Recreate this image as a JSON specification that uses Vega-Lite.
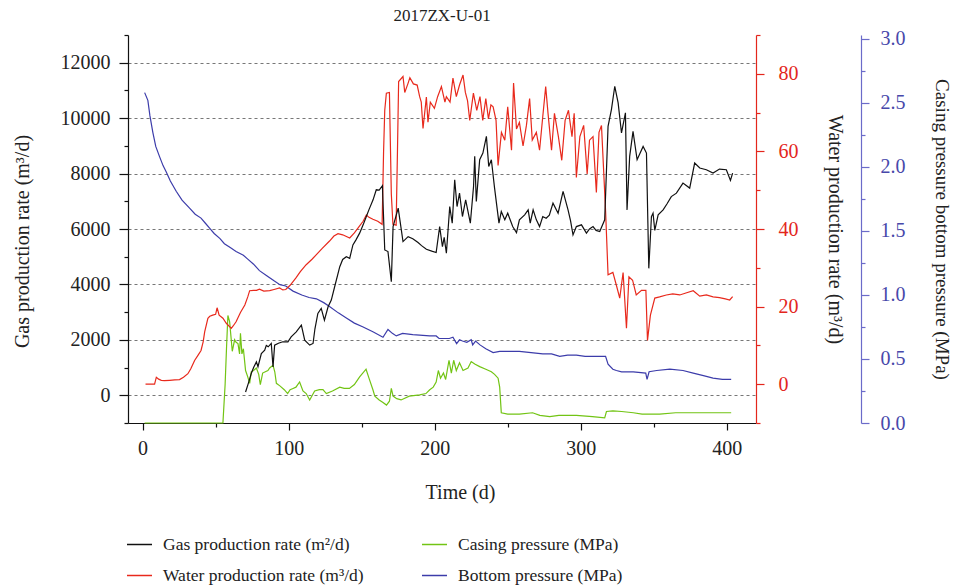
{
"$schema": "https://vega.github.io/schema/vega-lite/v6.json",
"width": 628, "height": 388,
"autosize": {"type": "none"},
"padding": {"left": 128, "top": 35, "right": 199, "bottom": 165},
"title": {"text": "2017ZX-U-01", "font": "Liberation Serif", "fontSize": 17, "fontWeight": "normal", "color": "#222", "anchor": "middle", "offset": 4},
"config": {"view": {"stroke": null}, "font": "Liberation Serif",
  "axis": {"labelFont": "Liberation Serif", "titleFont": "Liberation Serif", "labelFontSize": 20, "titleFontSize": 20, "titleFontWeight": "normal", "labelColor": "#222", "titleColor": "#222", "domainWidth": 1.2, "tickWidth": 1.2, "grid": false},
  "legend": {"labelFont": "Liberation Serif", "labelFontSize": 17.5, "labelColor": "#222", "labelLimit": 0, "symbolType": "stroke", "symbolSize": 625, "symbolStrokeWidth": 1.5, "labelOffset": 10, "columnPadding": 55, "rowPadding": 9, "padding": 0}},
"datasets": {
"gas": [{"t":70.5,"v":120},{"t":72.5,"v":450},{"t":74.4,"v":785},{"t":76,"v":1000},{"t":77.9,"v":1205},{"t":79,"v":1030},{"t":81.3,"v":1508},{"t":83.6,"v":1628},{"t":84.7,"v":1800},{"t":86,"v":1750},{"t":88.1,"v":1870},{"t":89.3,"v":1024},{"t":90.4,"v":1810},{"t":93,"v":1880},{"t":96,"v":1930},{"t":99.5,"v":1930},{"t":101.7,"v":2110},{"t":105.2,"v":2290},{"t":108.7,"v":2530},{"t":111,"v":1990},{"t":114.4,"v":1810},{"t":116.7,"v":1870},{"t":118,"v":2400},{"t":120,"v":2955},{"t":122.3,"v":3135},{"t":124.5,"v":2710},{"t":127,"v":3195},{"t":129.2,"v":3436},{"t":131.5,"v":3917},{"t":135,"v":4640},{"t":137,"v":4900},{"t":139.5,"v":5000},{"t":141.8,"v":4942},{"t":144,"v":5425},{"t":146,"v":5600},{"t":148.6,"v":5850},{"t":151,"v":6150},{"t":153.2,"v":6450},{"t":155,"v":6700},{"t":157.8,"v":7053},{"t":160,"v":7415},{"t":162,"v":7400},{"t":164.2,"v":7560},{"t":165.8,"v":5245},{"t":168,"v":5185},{"t":170.3,"v":4100},{"t":171.5,"v":6088},{"t":175,"v":6752},{"t":178.3,"v":5545},{"t":181.8,"v":5726},{"t":185,"v":5650},{"t":188.6,"v":5510},{"t":191,"v":5400},{"t":194.3,"v":5270},{"t":198,"v":5200},{"t":201,"v":5150},{"t":203.4,"v":6088},{"t":205.3,"v":5365},{"t":206.5,"v":5700},{"t":208,"v":5125},{"t":210.3,"v":6810},{"t":212,"v":6208},{"t":213.7,"v":7777},{"t":215.3,"v":6810},{"t":217,"v":7294},{"t":219,"v":6450},{"t":221.2,"v":7053},{"t":224.4,"v":6210},{"t":226.6,"v":7536},{"t":227.4,"v":8620},{"t":228.5,"v":6992},{"t":230.8,"v":8500},{"t":233,"v":8740},{"t":235.4,"v":9343},{"t":237,"v":8258},{"t":238.8,"v":8500},{"t":241,"v":7476},{"t":244,"v":6210},{"t":245.6,"v":6630},{"t":248,"v":6330},{"t":250,"v":6570},{"t":253.4,"v":6088},{"t":256,"v":5870},{"t":258,"v":6330},{"t":261.6,"v":6510},{"t":264,"v":6690},{"t":265.4,"v":6210},{"t":267.4,"v":6690},{"t":269.6,"v":6330},{"t":271.8,"v":6088},{"t":274,"v":6450},{"t":276.3,"v":6390},{"t":278.5,"v":6500},{"t":281,"v":6933},{"t":284.5,"v":6570},{"t":287.9,"v":7355},{"t":291.3,"v":6690},{"t":293,"v":6300},{"t":294.7,"v":5787},{"t":297,"v":6088},{"t":300.5,"v":6150},{"t":303.9,"v":5850},{"t":306,"v":6000},{"t":308.4,"v":6088},{"t":310.5,"v":5950},{"t":313,"v":5910},{"t":316.4,"v":6330},{"t":318.7,"v":9705},{"t":321,"v":10310},{"t":323.3,"v":11150},{"t":325.6,"v":10550},{"t":327.9,"v":9465},{"t":330.6,"v":10190},{"t":331.7,"v":6690},{"t":333.5,"v":8620},{"t":335.8,"v":9525},{"t":338.6,"v":8500},{"t":342.7,"v":8980},{"t":345,"v":8740},{"t":346.6,"v":4580},{"t":348.4,"v":6450},{"t":349.5,"v":6570},{"t":350.7,"v":5950},{"t":353,"v":6510},{"t":356.4,"v":6690},{"t":359,"v":6900},{"t":362,"v":7170},{"t":365.5,"v":7294},{"t":370,"v":7657},{"t":374.6,"v":7476},{"t":378,"v":8380},{"t":381.5,"v":8200},{"t":386,"v":8140},{"t":390.6,"v":8018},{"t":395,"v":8163},{"t":399.7,"v":8140},{"t":402.5,"v":7753},{"t":404,"v":8018}],
"water": [{"t":2,"v":0},{"t":8.2,"v":0},{"t":9.4,"v":1.8},{"t":11,"v":1.3},{"t":12.8,"v":1},{"t":15,"v":0.9},{"t":18.5,"v":1},{"t":22,"v":1.1},{"t":25.3,"v":1.2},{"t":28,"v":1.8},{"t":31,"v":2.7},{"t":33,"v":4},{"t":35.6,"v":6.1},{"t":38,"v":7.5},{"t":40,"v":8.7},{"t":41.5,"v":11},{"t":42.5,"v":13.5},{"t":44.7,"v":17},{"t":46,"v":17.5},{"t":48,"v":17.8},{"t":50,"v":18},{"t":51,"v":19.7},{"t":52.4,"v":17.8},{"t":55,"v":17},{"t":57.3,"v":15.7},{"t":60.7,"v":14.4},{"t":62,"v":15},{"t":64,"v":16.1},{"t":67,"v":18.5},{"t":70,"v":20.4},{"t":72,"v":22.5},{"t":73.3,"v":24.1},{"t":76,"v":24.2},{"t":78,"v":24.2},{"t":80,"v":24.5},{"t":83,"v":24},{"t":87,"v":24.1},{"t":90,"v":24.4},{"t":93.8,"v":24.8},{"t":96,"v":24.3},{"t":98,"v":24.4},{"t":101,"v":25.5},{"t":105,"v":27.4},{"t":108,"v":29},{"t":112,"v":30.8},{"t":116,"v":32.2},{"t":119,"v":33.4},{"t":123,"v":35},{"t":128,"v":36.9},{"t":131,"v":38.2},{"t":133.8,"v":38.8},{"t":137,"v":38.5},{"t":141.8,"v":37.7},{"t":145,"v":39},{"t":148.6,"v":40.8},{"t":151,"v":42},{"t":153.2,"v":43.6},{"t":155,"v":43},{"t":157.7,"v":42.5},{"t":161,"v":42},{"t":164,"v":41.2},{"t":165,"v":60},{"t":165.8,"v":70.6},{"t":166.9,"v":75},{"t":169,"v":75.2},{"t":170.3,"v":49},{"t":171.4,"v":41.2},{"t":173.6,"v":41},{"t":174.5,"v":60},{"t":175.3,"v":78},{"t":178.3,"v":79.3},{"t":179.5,"v":75.2},{"t":181.8,"v":77.6},{"t":183,"v":79},{"t":185.4,"v":77.4},{"t":188,"v":77.1},{"t":189.7,"v":74.1},{"t":190.8,"v":72.7},{"t":192,"v":65.9},{"t":194.3,"v":74},{"t":195.4,"v":67.5},{"t":197,"v":72.7},{"t":199.8,"v":71.1},{"t":202,"v":74.1},{"t":204.6,"v":76.7},{"t":207,"v":72.7},{"t":208,"v":74.1},{"t":210.5,"v":72.7},{"t":212.5,"v":78.9},{"t":214.8,"v":74.1},{"t":217,"v":77.1},{"t":219.4,"v":79.7},{"t":221,"v":75.2},{"t":222.5,"v":73},{"t":224,"v":68},{"t":226.5,"v":75},{"t":228.8,"v":70.6},{"t":231,"v":74.1},{"t":232.9,"v":68},{"t":235,"v":73.6},{"t":236.8,"v":68.4},{"t":238.5,"v":72},{"t":240,"v":71.5},{"t":242,"v":68},{"t":243.4,"v":56.4},{"t":245.7,"v":64.9},{"t":248,"v":62.9},{"t":250,"v":71.5},{"t":252.6,"v":60.3},{"t":254,"v":77.6},{"t":256,"v":65.8},{"t":258,"v":67.5},{"t":260.5,"v":61.4},{"t":262.8,"v":66.7},{"t":265,"v":73.6},{"t":266.8,"v":62.9},{"t":269.6,"v":64.9},{"t":271.8,"v":60.3},{"t":274,"v":69},{"t":276,"v":76.7},{"t":277.6,"v":69.8},{"t":280,"v":60.3},{"t":282,"v":69.8},{"t":284.7,"v":63.8},{"t":287,"v":57.7},{"t":289.3,"v":68},{"t":291.6,"v":70.6},{"t":294,"v":63.8},{"t":295.5,"v":69.8},{"t":297,"v":53.3},{"t":299.4,"v":63.8},{"t":302,"v":66.7},{"t":304.4,"v":54.2},{"t":306,"v":62.9},{"t":308.4,"v":63.8},{"t":310.7,"v":49.4},{"t":312.5,"v":64.9},{"t":314.2,"v":66.7},{"t":317,"v":44.7},{"t":318.7,"v":28.2},{"t":322,"v":28.8},{"t":324.4,"v":25.5},{"t":326.7,"v":22.2},{"t":329,"v":28.8},{"t":331.3,"v":14.4},{"t":333,"v":27.7},{"t":335.5,"v":26.8},{"t":338,"v":23},{"t":341.6,"v":24.2},{"t":344.6,"v":24.2},{"t":345.7,"v":11.3},{"t":347.7,"v":17.8},{"t":350.7,"v":22.2},{"t":354,"v":22.5},{"t":358.6,"v":23},{"t":363,"v":23.3},{"t":367.8,"v":23},{"t":372,"v":23.5},{"t":377,"v":24.1},{"t":381.5,"v":22.7},{"t":386,"v":23},{"t":390.6,"v":22.5},{"t":395,"v":22.3},{"t":399,"v":22},{"t":402,"v":21.7},{"t":404,"v":22.6}],
"casing": [{"t":1.4,"v":0},{"t":30,"v":0},{"t":55,"v":0},{"t":56.5,"v":0.3},{"t":57.5,"v":0.6},{"t":58.4,"v":0.84},{"t":59.6,"v":0.79},{"t":61.4,"v":0.56},{"t":63,"v":0.65},{"t":64,"v":0.63},{"t":65.3,"v":0.62},{"t":66.4,"v":0.54},{"t":67,"v":0.7},{"t":68,"v":0.54},{"t":69,"v":0.58},{"t":70.5,"v":0.41},{"t":72,"v":0.36},{"t":73.3,"v":0.31},{"t":74.4,"v":0.4},{"t":76,"v":0.41},{"t":77.9,"v":0.43},{"t":79.5,"v":0.38},{"t":80.6,"v":0.3},{"t":82.2,"v":0.39},{"t":84,"v":0.4},{"t":85.8,"v":0.41},{"t":87,"v":0.43},{"t":89.3,"v":0.45},{"t":90.5,"v":0.4},{"t":91.6,"v":0.31},{"t":94,"v":0.29},{"t":97,"v":0.26},{"t":99.3,"v":0.23},{"t":101,"v":0.26},{"t":103,"v":0.27},{"t":105,"v":0.28},{"t":107.5,"v":0.32},{"t":109.8,"v":0.25},{"t":112,"v":0.23},{"t":114.4,"v":0.18},{"t":117.8,"v":0.25},{"t":121,"v":0.26},{"t":123.5,"v":0.26},{"t":125.8,"v":0.23},{"t":130,"v":0.25},{"t":135,"v":0.28},{"t":138,"v":0.27},{"t":141.6,"v":0.27},{"t":145,"v":0.3},{"t":148.6,"v":0.36},{"t":153,"v":0.42},{"t":155,"v":0.35},{"t":157.7,"v":0.26},{"t":159,"v":0.21},{"t":162,"v":0.18},{"t":164.6,"v":0.16},{"t":167,"v":0.14},{"t":169,"v":0.17},{"t":170.3,"v":0.27},{"t":171.5,"v":0.21},{"t":174,"v":0.19},{"t":177,"v":0.18},{"t":182.6,"v":0.21},{"t":189.7,"v":0.22},{"t":194,"v":0.23},{"t":196.6,"v":0.26},{"t":199,"v":0.28},{"t":201,"v":0.32},{"t":202.5,"v":0.41},{"t":204,"v":0.35},{"t":206,"v":0.39},{"t":207.5,"v":0.34},{"t":209.8,"v":0.49},{"t":211.4,"v":0.39},{"t":213,"v":0.49},{"t":214.8,"v":0.41},{"t":217,"v":0.47},{"t":219.4,"v":0.41},{"t":222.8,"v":0.43},{"t":225,"v":0.48},{"t":227.4,"v":0.46},{"t":230.8,"v":0.44},{"t":235,"v":0.42},{"t":238.8,"v":0.4},{"t":241,"v":0.38},{"t":243.4,"v":0.35},{"t":244.5,"v":0.28},{"t":245.6,"v":0.08},{"t":250,"v":0.07},{"t":258,"v":0.07},{"t":267,"v":0.08},{"t":272,"v":0.06},{"t":278.8,"v":0.05},{"t":285,"v":0.06},{"t":297,"v":0.06},{"t":308,"v":0.05},{"t":316.4,"v":0.04},{"t":317.6,"v":0.09},{"t":322,"v":0.095},{"t":328,"v":0.09},{"t":336,"v":0.08},{"t":342,"v":0.07},{"t":354,"v":0.07},{"t":365,"v":0.08},{"t":375,"v":0.08},{"t":388,"v":0.08},{"t":403,"v":0.08}],
"bottom": [{"t":1.4,"v":2.58},{"t":3.6,"v":2.52},{"t":5,"v":2.4},{"t":7,"v":2.27},{"t":9,"v":2.16},{"t":11.6,"v":2.08},{"t":14,"v":2.01},{"t":16.2,"v":1.96},{"t":19,"v":1.89},{"t":23,"v":1.81},{"t":27,"v":1.74},{"t":32,"v":1.68},{"t":36,"v":1.63},{"t":40,"v":1.6},{"t":43,"v":1.56},{"t":46,"v":1.52},{"t":49,"v":1.48},{"t":53,"v":1.44},{"t":56,"v":1.4},{"t":60,"v":1.37},{"t":64,"v":1.34},{"t":69,"v":1.31},{"t":72,"v":1.28},{"t":76,"v":1.24},{"t":80,"v":1.19},{"t":85,"v":1.15},{"t":90,"v":1.11},{"t":94,"v":1.08},{"t":98,"v":1.07},{"t":103,"v":1.03},{"t":109,"v":1},{"t":114,"v":0.98},{"t":119,"v":0.97},{"t":124,"v":0.94},{"t":128,"v":0.91},{"t":134,"v":0.86},{"t":139.5,"v":0.82},{"t":145,"v":0.78},{"t":151,"v":0.75},{"t":158,"v":0.71},{"t":164.6,"v":0.67},{"t":168,"v":0.73},{"t":171,"v":0.7},{"t":173.7,"v":0.68},{"t":178,"v":0.7},{"t":185,"v":0.69},{"t":196.6,"v":0.68},{"t":201,"v":0.68},{"t":203,"v":0.66},{"t":210,"v":0.66},{"t":212.5,"v":0.67},{"t":215,"v":0.62},{"t":217,"v":0.65},{"t":219,"v":0.64},{"t":222,"v":0.63},{"t":225,"v":0.65},{"t":226,"v":0.61},{"t":228,"v":0.64},{"t":231,"v":0.61},{"t":235,"v":0.58},{"t":240,"v":0.55},{"t":244.5,"v":0.56},{"t":250,"v":0.56},{"t":258,"v":0.56},{"t":266,"v":0.55},{"t":274,"v":0.54},{"t":280,"v":0.54},{"t":285.6,"v":0.52},{"t":291,"v":0.53},{"t":297,"v":0.53},{"t":303,"v":0.52},{"t":308,"v":0.52},{"t":317,"v":0.52},{"t":318.7,"v":0.46},{"t":322,"v":0.42},{"t":324.4,"v":0.41},{"t":328,"v":0.4},{"t":336,"v":0.4},{"t":344.5,"v":0.39},{"t":345.4,"v":0.34},{"t":346.8,"v":0.4},{"t":352,"v":0.41},{"t":361,"v":0.42},{"t":370,"v":0.41},{"t":377,"v":0.39},{"t":384,"v":0.37},{"t":390.6,"v":0.35},{"t":397,"v":0.34},{"t":403,"v":0.34}]
},
"encoding": {
  "x": {"field": "t", "type": "quantitative", "scale": {"domain": [-10, 420], "nice": false, "zero": false},
    "axis": {"title": "Time (d)", "titleX": 332, "values": [0,50,100,150,200,250,300,350,400], "labelExpr": "datum.value % 100 === 0 ? datum.label : ''",
      "tickSize": {"condition": {"test": "datum.value % 100 === 0", "value": 7}, "value": 4},
      "labelFont": "Liberation Serif", "domainColor": "#111", "tickColor": "#111", "labelPadding": 8, "titlePadding": 24, "format": "d"}}
},
"layer": [
  {"data": {"name": "bottom"}, "mark": {"type": "line", "strokeWidth": 1.2},
   "encoding": {"y": {"field": "v", "type": "quantitative", "scale": {"domain": [0, 3.03], "nice": false, "zero": false},
      "axis": {"orient": "right", "offset": 105, "title": "Casing pressure bottom pressure (MPa)", "titleFontSize": 19, "values": [0,0.25,0.5,0.75,1,1.25,1.5,1.75,2,2.25,2.5,2.75,3],
        "labelExpr": "datum.value * 2 % 1 === 0 ? format(datum.value, '.1f') : ''", "labelFont": "Liberation Serif",
        "tickSize": {"condition": {"test": "datum.value * 2 % 1 === 0", "value": 8}, "value": 4},
        "domainColor": "#6b6bc9", "tickColor": "#6b6bc9", "labelColor": "#4848aa", "labelPadding": 11, "titlePadding": 26}},
     "color": {"datum": "Bottom pressure (MPa)",
       "scale": {"domain": ["Gas production rate (m²/d)", "Casing pressure (MPa)", "Water production rate (m³/d)", "Bottom pressure (MPa)"], "range": ["#111111", "#72c414", "#e8291c", "#3c3caa"]},
       "legend": {"title": null, "orient": "none", "legendX": -2, "legendY": 496, "columns": 2, "direction": "horizontal"}}}},
  {"data": {"name": "casing"}, "mark": {"type": "line", "strokeWidth": 1.2},
   "encoding": {"y": {"field": "v", "type": "quantitative", "scale": {"domain": [0, 3.03], "nice": false, "zero": false}, "axis": null},
     "color": {"datum": "Casing pressure (MPa)"}}},
  {"data": {"name": "water"}, "mark": {"type": "line", "strokeWidth": 1.2},
   "encoding": {"y": {"field": "v", "type": "quantitative", "scale": {"domain": [-10, 90], "nice": false, "zero": false},
      "axis": {"orient": "right", "title": "Water production rate (m³/d)", "values": [-10,0,10,20,30,40,50,60,70,80,90],
        "labelExpr": "datum.value % 20 === 0 ? datum.label : ''", "labelFont": "Liberation Serif",
        "tickSize": {"condition": {"test": "datum.value % 20 === 0", "value": 8}, "value": 4},
        "domainColor": "#e3261c", "tickColor": "#e3261c", "labelColor": "#e3261c", "labelPadding": 14, "titlePadding": 26}},
     "color": {"datum": "Water production rate (m³/d)"}}},
  {"data": {"name": "gas"}, "mark": {"type": "line", "strokeWidth": 1.2},
   "encoding": {"y": {"field": "v", "type": "quantitative", "scale": {"domain": [-1000, 13000], "nice": false, "zero": false},
      "axis": {"orient": "left", "title": "Gas production rate (m³/d)", "titleY": 206, "values": [-1000,0,1000,2000,3000,4000,5000,6000,7000,8000,9000,10000,11000,12000,13000],
        "labelExpr": "datum.value % 2000 === 0 ? datum.label : ''", "format": "d", "labelFont": "Liberation Serif",
        "tickSize": {"condition": {"test": "datum.value % 2000 === 0", "value": 9}, "value": 4},
        "grid": true, "gridDash": [3, 3], "gridColor": "#777", "gridWidth": 1.2,
        "gridOpacity": {"condition": {"test": "datum.value % 2000 === 0", "value": 1}, "value": 0},
        "domainColor": "#111", "tickColor": "#111", "labelPadding": 9, "titlePadding": 28}},
     "color": {"datum": "Gas production rate (m²/d)"}}}
],
"resolve": {"scale": {"y": "independent"}}
}
